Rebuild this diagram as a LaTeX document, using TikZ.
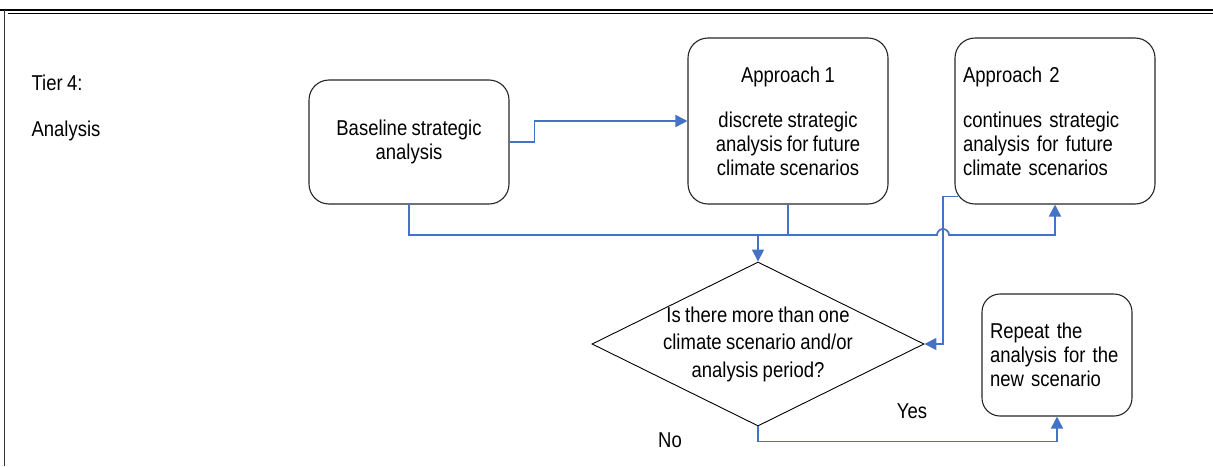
\documentclass[tikz,border=0pt]{standalone}
\usepackage{fontspec}
\setmainfont[FakeStretch=0.86,WordSpace=0.86]{Liberation Sans}
\usetikzlibrary{arrows.meta,shapes.geometric,calc}
\definecolor{flowblue}{HTML}{4472C4}
\begin{document}
\begin{tikzpicture}[x=1pt,y=-1pt,
  txt/.style={font=\fontsize{21.5}{24}\selectfont},
  box/.style={txt, draw=black!85, line width=1.1pt, rounded corners=20pt, inner sep=0pt},
  decision/.style={diamond, draw=black, line width=0.9pt, inner sep=0pt,
    minimum width=332pt, minimum height=164pt},
  flow/.style={draw=flowblue, line width=1.7pt},
  arr/.style={flow, -{Triangle[length=12pt,width=12pt]}}
]
\useasboundingbox (0,0) rectangle (1213,466);

% page frame
\draw[line width=2.5pt] (0,10) -- (1213,10);
\draw[line width=1pt] (8,13.6) -- (1213,13.6);
\draw[line width=1.6pt, black!80] (4.5,10) -- (4.5,466);

% tier heading
\node[txt, anchor=west, align=left] (tier) at (28,108) {Tier 4:\\[22pt]Analysis};

% process boxes
\node[box, minimum width=200pt, minimum height=124pt, align=center] (base) at (409,142)
  {Baseline strategic\\analysis};
\node[box, minimum width=200pt, minimum height=166pt, align=center] (a1) at (788,121)
  {Approach 1\\[21pt]discrete strategic\\analysis for future\\climate scenarios};
\node[box, minimum width=200pt, minimum height=166pt, text width=184pt, align=left] (a2) at (1055,121)
  {Approach 2\\[21pt]continues strategic\\analysis for future\\climate scenarios};
\node[box, rounded corners=18pt, minimum width=150pt, minimum height=122pt, text width=134pt, align=left] (rep) at (1057,355)
  {Repeat the\\analysis for the\\new scenario};

% decision
\node[decision] (q) at (758,344) {};
\node[font=\fontsize{21.5}{27.5}\selectfont, align=center] (qtext) at (q.center)
  {Is there more than one\\climate scenario and/or\\analysis period?};

% branch labels
\node[txt] (yes) at (912,411) {Yes};
\node[txt] (no) at (670,440) {No};

% connectors
\coordinate (hop) at (943,235);
\coordinate (join) at (758,235);
\coordinate (a2out) at ($(a2.south west)+(4,-8)$);

\draw[arr] (base.east) -- ++(25,0) |- (a1.west);
\draw[arr] (base.south) |- ($(hop)+(-6,0)$)
  arc[start angle=180, end angle=360, radius=6] -| (a2.south);
\draw[flow] (a1.south) -- (a1.south |- join);
\draw[arr] (join) -- (q.north);
\draw[arr] (a2out) -- (hop |- a2out) |- (q.east);
\draw[arr] (q.south) -- ++(0,15) -| (rep.south);
\end{tikzpicture}
\end{document}
